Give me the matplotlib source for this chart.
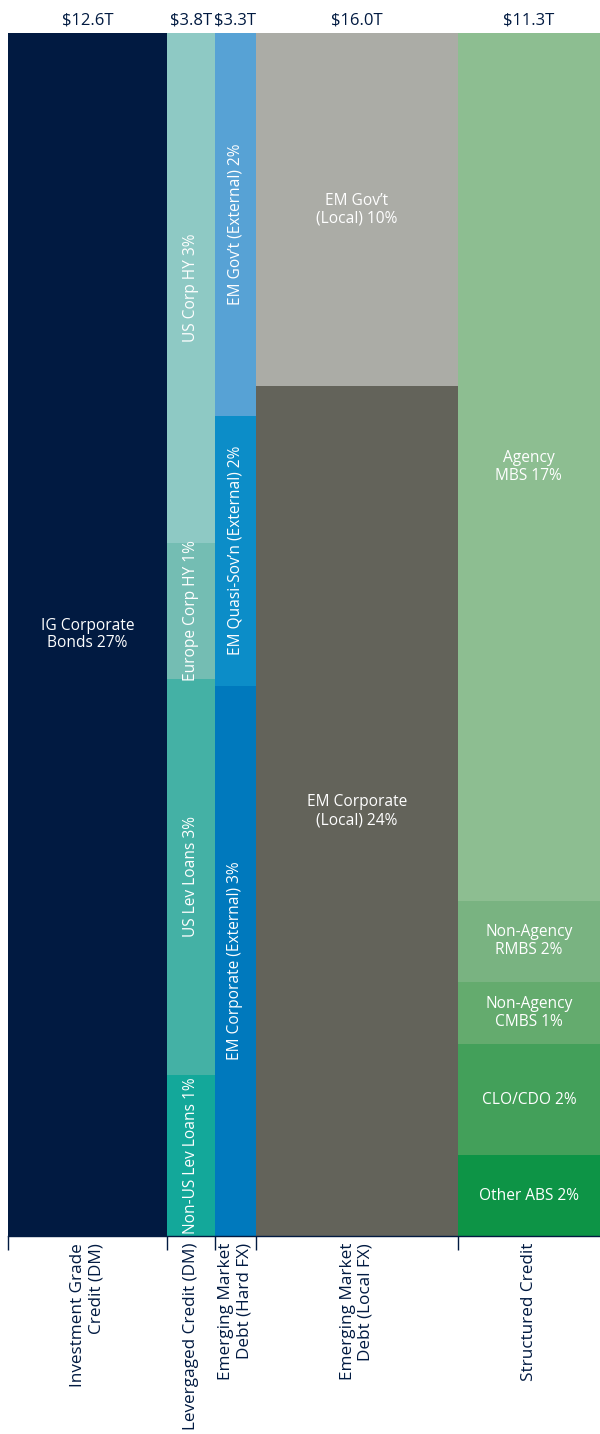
import numpy as np
import matplotlib.pyplot as plt

plt.rcParams['font.family'] = ['Open Sans', 'DejaVu Sans']

# column totals ($T) and category names
categories = ['Investment Grade\nCredit (DM)', 'Levergaged Credit (DM)',
              'Emerging Market\nDebt (Hard FX)', 'Emerging Market\nDebt (Local FX)',
              'Structured Credit']
totals = [12.6, 3.8, 3.3, 16.0, 11.3]
total_labels = ['$12.6T', '$3.8T', '$3.3T', '$16.0T', '$11.3T']

# segments per column, top to bottom ($T, estimated)
seg_values = [
    [12.6],
    [1.61, 0.43, 1.25, 0.51],
    [1.05, 0.74, 1.51],
    [4.70, 11.30],
    [8.15, 0.76, 0.59, 1.04, 0.76],
]
seg_labels = [
    ['IG Corporate\nBonds 27%'],
    ['US Corp HY 3%', 'Europe Corp HY 1%', 'US Lev Loans 3%', 'Non-US Lev Loans 1%'],
    ['EM Gov\u2019t (External) 2%', 'EM Quasi-Sov\u2019n (External) 2%', 'EM Corporate (External) 3%'],
    ['EM Gov\u2019t\n(Local) 10%', 'EM Corporate\n(Local) 24%'],
    ['Agency\nMBS 17%', 'Non-Agency\nRMBS 2%', 'Non-Agency\nCMBS 1%', 'CLO/CDO 2%', 'Other ABS 2%'],
]
seg_colors = [
    ['#011a41'],
    ['#8ec9c4', '#74bdb3', '#44b1a5', '#13a89a'],
    ['#57a2d5', '#0c8dc8', '#0079bd'],
    ['#abaca6', '#63635a'],
    ['#8dbe91', '#79b381', '#64ab6e', '#43a05a', '#0d9446'],
]
rotated = [False, True, True, False, False]

fig = plt.figure(figsize=(6, 14.34), dpi=100)
ax = fig.add_axes([8 / 600, 198 / 1434, 592 / 600, 1203 / 1434])

lefts = np.concatenate([[0], np.cumsum(totals)[:-1]])
for i in range(len(totals)):
    vals = np.array(seg_values[i]) / totals[i]
    bottoms = np.concatenate([[0], np.cumsum(vals)[:-1]])
    for v, b, c, lab in zip(vals, bottoms, seg_colors[i], seg_labels[i]):
        ax.bar(lefts[i], v, width=totals[i], bottom=b, align='edge', color=c, linewidth=0)
        ax.text(lefts[i] + totals[i] / 2, b + v / 2, lab, color='white', fontsize=11.2,
                ha='center', va='center', rotation=90 if rotated[i] else 0,
                multialignment='center', linespacing=1.15)
    ax.text(lefts[i] + totals[i] / 2, -0.004, total_labels[i], color='#011a41', fontsize=12,
            ha='center', va='bottom')

ax.set_xlim(0, sum(totals))
ax.set_ylim(1, 0)
ax.set_yticks([])
for s in ['top', 'left', 'right']:
    ax.spines[s].set_visible(False)
ax.spines['bottom'].set_color('#011a41')
ax.spines['bottom'].set_linewidth(1)

ax.set_xticks(lefts)
ax.set_xticklabels([''] * len(lefts))
ax.tick_params(axis='x', which='major', length=10, color='#011a41', width=1)
ax.set_xticks(lefts + np.array(totals) / 2, categories, minor=True)
ax.tick_params(axis='x', which='minor', length=0, pad=5, labelsize=12.3, labelcolor='#011a41')
for t in ax.get_xticklabels(minor=True):
    t.set_rotation(90)
    t.set_multialignment('right')
    t.set_linespacing(1.15)

fig.savefig('out.png', dpi=100)
